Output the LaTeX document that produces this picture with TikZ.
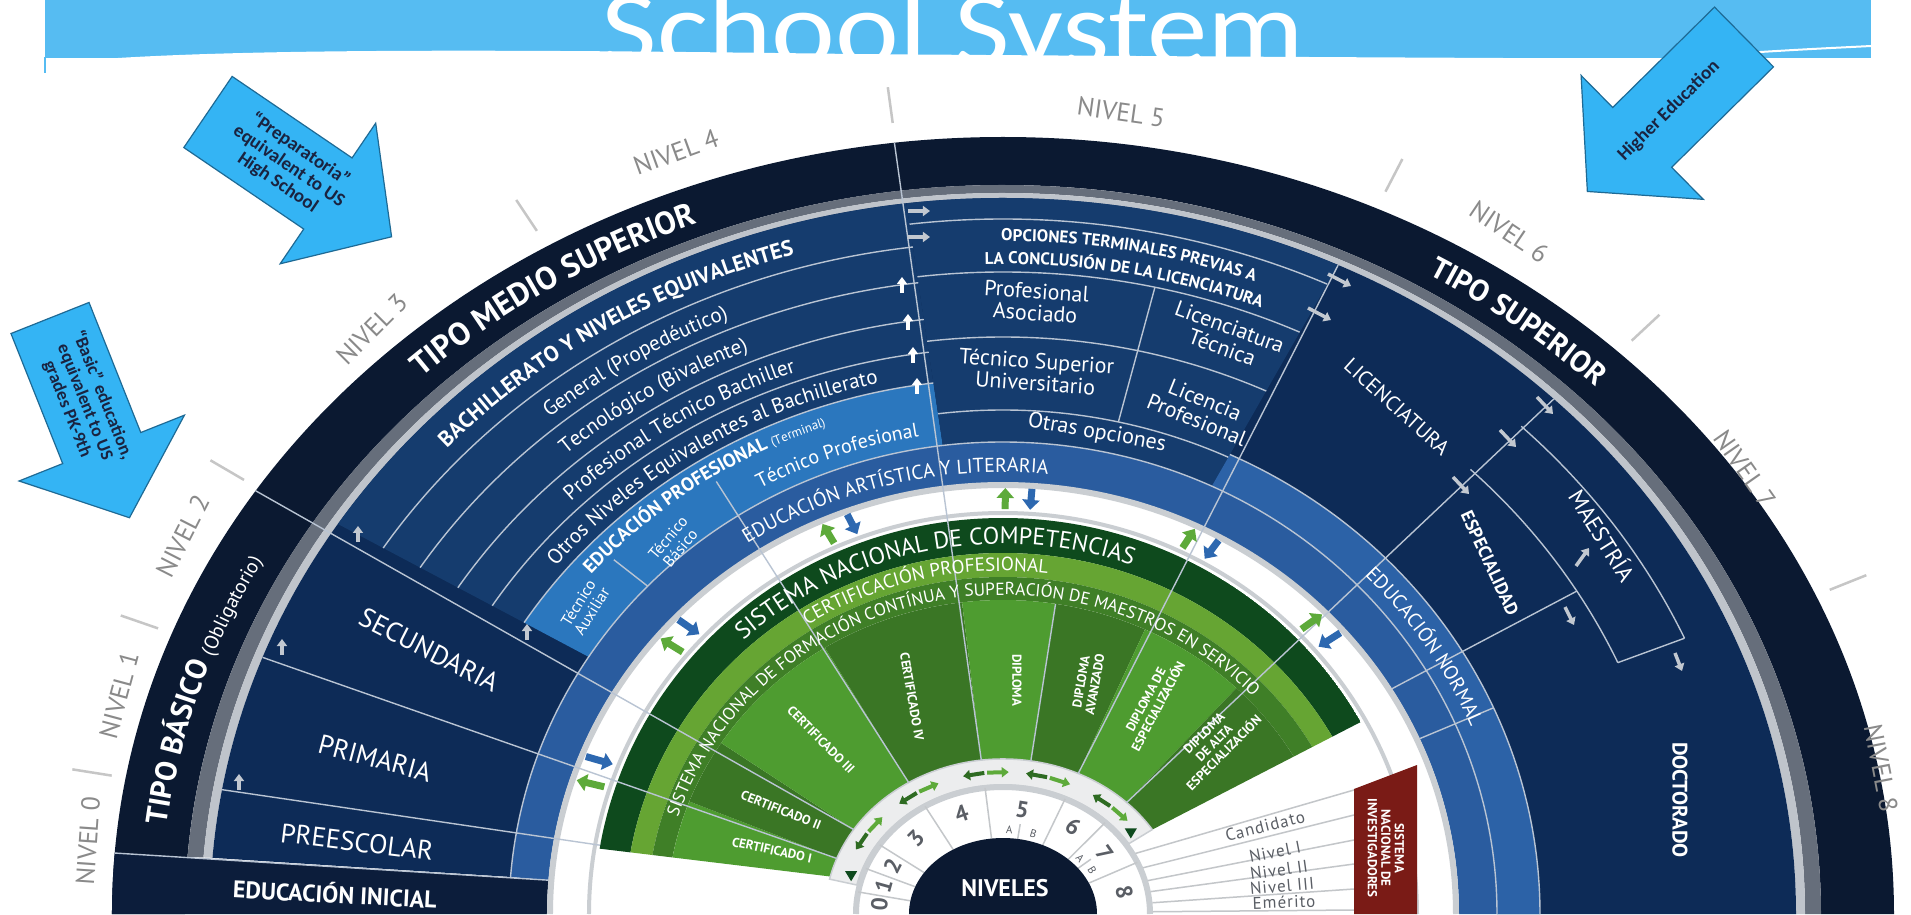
\documentclass[tikz,border=0pt]{standalone}
\usepackage{fontspec}
\setmainfont{PT Sans}
\newfontfamily\callfont{Carlito}
\usetikzlibrary{decorations.text,arrows.meta}

\definecolor{outerband}{HTML}{0B1931}
\definecolor{ringgray}{HTML}{666E7B}
\definecolor{ringlight}{HTML}{BFC4CB}
\definecolor{navy}{HTML}{0D2B57}
\definecolor{rowblue}{HTML}{153C6E}
\definecolor{profblue}{HTML}{2B77BE}
\definecolor{artblue}{HTML}{2A5C9F}
\definecolor{normblue}{HTML}{2C62A7}
\definecolor{inicial}{HTML}{0C1D3B}
\definecolor{sepcol}{HTML}{B9C4D3}
\definecolor{gapgray}{HTML}{CACED2}
\definecolor{gdark}{HTML}{0E4A1D}
\definecolor{glight}{HTML}{66A533}
\definecolor{gmid}{HTML}{3F7F27}
\definecolor{gwa}{HTML}{4E9C30}
\definecolor{gwb}{HTML}{3A7625}
\definecolor{gdarkarrow}{HTML}{2E6B22}
\definecolor{arrowgreen}{HTML}{5DAA3A}
\definecolor{arrowblue}{HTML}{2D68B0}
\definecolor{ringfill}{HTML}{ECEDEE}
\definecolor{numline}{HTML}{C4C7CA}
\definecolor{numgray}{HTML}{5A5E65}
\definecolor{snired}{HTML}{7A1B16}
\definecolor{banner}{HTML}{56BCF2}
\definecolor{callfill}{HTML}{34B4F4}
\definecolor{calledge}{HTML}{1E6A95}
\definecolor{calltext}{HTML}{1A2340}
\definecolor{nivelgray}{HTML}{8A8A8A}
\definecolor{tickgray}{HTML}{C6C6C6}
\definecolor{flowgray}{HTML}{C2C8D0}
\definecolor{fangray}{HTML}{C3C6C9}

\newcommand{\fsz}[1]{\fontsize{#1}{#1}\selectfont}
\newcommand{\band}[7]{\path[#1] (#2:#4pt and #5pt) arc[start angle=#2, end angle=#3, x radius=#4pt, y radius=#5pt] -- (#3:#6pt and #7pt) arc[start angle=#3, end angle=#2, x radius=#6pt, y radius=#7pt] -- cycle;}
\newcommand{\rim}[5]{\draw[#1] (#2:#4pt and #5pt) arc[start angle=#2, end angle=#3, x radius=#4pt, y radius=#5pt];}
\newcommand{\ray}[6]{\draw[#1] (#2:#3pt and #4pt) -- (#2:#5pt and #6pt);}
\newcommand{\curved}[5]{\path[decorate, decoration={text along path, text align=center, text={#5}}] (#1:#3pt and #4pt) arc[start angle=#1, end angle=#2, x radius=#3pt, y radius=#4pt];}
\newcommand{\callout}[7]{\filldraw[callbox, shift={(#1,#2)}, rotate=#3] (0,-#6) -- ({#4-#5},-#6) -- ({#4-#5},-#7) -- (#4,0) -- ({#4-#5},#7) -- ({#4-#5},#6) -- (0,#6) -- cycle;}

\begin{document}
\begin{tikzpicture}[x=1pt, y=1pt,
  sepl/.style={draw=sepcol, line width=1.4pt},
  gapline/.style={draw=gapgray, line width=6pt},
  numsep/.style={draw=numline, line width=1.5pt},
  flow/.style={-{Triangle[width=10pt,length=7pt]}, line width=3.5pt, draw=flowgray},
  wflow/.style={flow, draw=white},
  gup/.style={-{Triangle[width=17pt,length=10pt]}, line width=7pt, draw=arrowgreen},
  bdown/.style={gup, draw=arrowblue},
  lefta/.style={-{Triangle[width=10pt,length=7pt]}, line width=4pt, draw=gdarkarrow},
  righta/.style={lefta, draw=arrowgreen},
  callbox/.style={fill=callfill, draw=calledge, line width=1.2pt},
  calltxt/.style={text=calltext, font=\callfont\bfseries\fontsize{19}{20}\selectfont, align=center},
  nivel/.style={text=nivelgray, font=\fsz{26}},
  nivtick/.style={draw=tickgray, line width=2.5pt},
  numlbl/.style={text=numgray, font=\bfseries\fsz{23}},
  ablbl/.style={text=numgray, font=\fsz{11}},
  lvl/.style={text=white, font=\fsz{27}},
  opt/.style={text=white, font=\fontsize{22}{22}\selectfont, align=center},
  wedgelbl/.style={text=white, font=\bfseries\fontsize{13}{14}\selectfont, align=center},
  fanline/.style={draw=fangray, line width=1.5pt},
  fanlbl/.style={text=numgray, font=\fsz{17}\addfontfeatures{LetterSpace=6}}]
\tikzstyle{every node}=[inner sep=0pt]
\useasboundingbox (-1003,0) rectangle (908,914);
\fill[white] (-1003,0) rectangle (908,914);

\fill[banner] (-958,856) rectangle (868,914);
\draw[banner, line width=2pt] (-958,857) -- (-958,841);
\fill[white] (-885,856) .. controls (-720,866) and (-450,864) .. (-150,860) .. controls (100,858) and (300,857) .. (500,856) -- cycle;
\node[text=white, font=\callfont\fsz{108}, xscale=1.12, anchor=base] (t) at (-50,848) {School System};
\draw[white, line width=2pt] (700,858) .. controls (780,864) and (830,866) .. (868,868);

\band{fill=outerband}{180}{0}{891}{777}{818}{729}
\band{fill=ringgray}{175.5}{0}{818}{729}{802}{721}
\band{fill=ringlight}{175.5}{0}{802}{721}{793}{716}
\band{fill=navy}{175.5}{0}{793}{716}{494}{472}
\band{fill=rowblue}{147}{97}{793}{716}{571}{535}
\band{fill=profblue}{147}{97}{571}{535}{494}{472}
\band{fill=rowblue}{97}{65}{793}{716}{494}{472}
\band{fill=normblue}{65}{0}{537}{507}{494}{472}
\band{fill=artblue}{175.5}{0}{494}{472}{456}{431}
\band{fill=inicial}{180}{175.5}{891}{777}{456}{431}

\begin{scope}
\clip (170.5:409pt and 396pt) arc[start angle=170.5, end angle=29, x radius=409pt, y radius=396pt] -- (33:178pt and 155pt) arc[start angle=33, end angle=166, x radius=178pt, y radius=155pt] -- cycle;
\band{fill=gdark}{180}{0}{409}{396}{378}{361}
\band{fill=glight}{180}{0}{378}{361}{356}{337}
\band{fill=gmid}{180}{0}{356}{337}{336}{314}
\foreach \a/\b/\c in {180/159/gwa, 159/147/gwb, 147/122/gwa, 122/97/gwb, 97/81/gwa, 81/65/gwb, 65/46/gwa, 46/0/gwb}
  {\band{fill=\c}{\a}{\b}{336}{314}{178}{155}}
\end{scope}

\band{fill=ringfill, draw=gapgray, line width=1.5pt}{167}{33}{178}{155}{150}{129}
\band{fill=white}{180}{0}{147}{127}{94}{76}
\rim{draw=gapgray, line width=6pt}{180}{0}{147}{127}
\foreach \t in {170,159,147,122,97,65,46,24} {\ray{numsep}{\t}{147}{127}{94}{76}}
\ray{numsep}{81}{110}{91}{94}{76}
\ray{numsep}{37}{110}{91}{94}{76}
\fill[outerband] (180:94pt and 76pt) arc[start angle=180, end angle=0, x radius=94pt, y radius=76pt] -- cycle;

\rim{gapline}{180}{0}{453}{429}
\rim{draw=gapgray, line width=4pt}{180}{0}{414}{401}

\foreach \a/\b in {739/672, 695/636, 650/599, 609/566, 571/535} {\rim{sepl}{147}{97}{\a}{\b}}
\foreach \a/\b in {767/695, 702/642, 623/577, 533/504} {\rim{sepl}{97}{65}{\a}{\b}}
\rim{sepl}{65}{0}{537}{507}
\rim{sepl}{175.5}{0}{494}{472}
\rim{sepl}{46}{24}{673}{618}
\rim{sepl}{46}{24}{746}{678}
\ray{sepl}{175.5}{891}{777}{456}{431}
\ray{sepl}{170}{793}{716}{409}{396}
\ray{sepl}{159}{793}{716}{178}{155}
\ray{sepl}{147}{891}{777}{178}{155}
\ray{sepl}{136}{541}{510}{494}{472}
\ray{sepl}{122}{541}{510}{178}{155}
\ray{sepl}{97}{891}{777}{178}{155}
\ray{sepl}{81}{336}{314}{178}{155}
\ray{sepl}{77.5}{702}{642}{533}{504}
\ray{sepl}{65}{793}{716}{178}{155}
\ray{sepl}{46}{793}{716}{178}{155}
\ray{sepl}{31.5}{673}{618}{456}{431}
\ray{sepl}{24}{746}{678}{673}{618}
\ray{sepl}{24}{537}{507}{456}{431}

\foreach \t in {160,138,112,88,63,43} {
  \draw[gup] ({\t+1.7}:420pt and 405pt) -- ({\t+1.7}:449pt and 426pt);
  \draw[bdown] ({\t-1.7}:449pt and 426pt) -- ({\t-1.7}:420pt and 405pt);}
\foreach \t in {145,121,96,74,49} {
  \draw[lefta] ({\t+0.5}:165pt and 142pt) -- ({\t+8}:165pt and 142pt);
  \draw[righta] ({\t-0.5}:165pt and 142pt) -- ({\t-8}:165pt and 142pt);}
\fill[gdark, shift={(164:158pt and 137pt)}] (-6,5) -- (6,5) -- (0,-5) -- cycle;
\fill[gdark, shift={(36:158pt and 137pt)}] (-6,5) -- (6,5) -- (0,-5) -- cycle;

\draw[fanline] (28:150pt and 129pt) -- (351,124);
\draw[fanline] (21:150pt and 129pt) -- (351,99);
\draw[fanline] (15:150pt and 129pt) -- (351,74);
\draw[fanline] (10:150pt and 129pt) -- (351,50);
\draw[fanline] (5:150pt and 129pt) -- (351,25);
\draw[fanline] (1:150pt and 129pt) -- (351,4);
\fill[snired] (351,0) -- (351,125) -- (414,149) -- (414,0) -- cycle;
\node[text=white, font=\bfseries\fontsize{13}{13.5}\selectfont, align=center, rotate=-90] (s) at (383,66) {SISTEMA\\NACIONAL DE\\INVESTIGADORES};
\node[fanlbl, rotate=14] (c1) at (262,88) {Candidato};
\node[fanlbl, rotate=11] (c2) at (272,62) {Nivel I};
\node[fanlbl, rotate=8] (c3) at (276,44) {Nivel II};
\node[fanlbl, rotate=5] (c4) at (279,28) {Nivel III};
\node[fanlbl, rotate=2] (c5) at (281,12) {Emérito};

\foreach \t in {170,159,147,121,97,65,46,24} {\draw[nivtick] (\t:905pt and 797pt) -- (\t:945pt and 833pt);}
\foreach \i/\x/\y/\r in {0/-915/73/86, 1/-884/219/75, 2/-820/378/63, 3/-631/585/45, 4/-327/762/20, 5/118/802/-8, 6/506/682/-34, 7/742/445/-55, 8/878/146/-79}
  {\node[nivel, rotate=\r] (nv\i) at (\x,\y) {NIVEL \i};}

\draw[flow] (-764,124) -- (-764,140);
\draw[flow] (-721,259) -- (-721,275);
\draw[flow] (-645,372) -- (-645,388);
\draw[flow] (-476,274) -- (-476,290);
\draw[wflow] (-101,621) -- (-101,637);
\draw[wflow] (-95,584) -- (-95,600);
\draw[wflow] (-90,551) -- (-90,567);
\draw[wflow] (-86,520) -- (-86,536);
\draw[flow] (-95,703) -- (-73,703);
\draw[flow] (-95,677) -- (-73,677);
\draw[flow] (325,640) -- (348,628);
\draw[flow] (305,606) -- (328,594);
\draw[flow] (534,517) -- (550,500);
\draw[flow] (497,484) -- (513,467);
\draw[flow] (450,437) -- (466,420);
\draw[flow] (573,348) -- (586,366);
\draw[flow] (562,307) -- (571,289);
\draw[flow] (672,261) -- (679,243);

\curved{180}{145}{842}{741}{|\color{white}\bfseries\fsz{30}|TIPO BÁSICO |\color{white}\mdseries\fsz{20}|(Obligatorio)}
\curved{150}{96}{842}{741}{|\color{white}\bfseries\fsz{32}|TIPO MEDIO SUPERIOR}
\curved{75}{29}{842}{741}{|\color{white}\bfseries\fsz{30}|TIPO SUPERIOR}
\curved{150}{94}{757}{686}{|\color{white}\bfseries\fsz{22}|BACHILLERATO Y NIVELES EQUIVALENTES}
\curved{140}{103}{708}{646}{|\color{white}\fsz{21}|General (Propedéutico)}
\curved{140}{104}{664}{610}{|\color{white}\fsz{21}|Tecnológico (Bivalente)}
\curved{145}{99}{621}{575}{|\color{white}\fsz{21}|Profesional Técnico Bachiller}
\curved{150}{93}{582}{543}{|\color{white}\fsz{21}|Otros Niveles Equivalentes al Bachillerato}
\curved{150}{98}{548}{515}{|\color{white}\bfseries\fsz{19}|EDUCACIÓN PROFESIONAL |\color{white}\mdseries\fsz{13}|(Terminal)}
\curved{125}{93}{510}{484}{|\color{white}\fsz{20}|Técnico Profesional}
\curved{140}{68}{467}{442}{|\color{white}\fsz{20}|EDUCACIÓN ARTÍSTICA Y LITERARIA}
\curved{60}{7}{508}{482}{|\color{white}\fsz{20}|EDUCACIÓN NORMAL}
\curved{150}{53}{386}{370}{|\color{white}\fsz{24}|SISTEMA NACIONAL DE COMPETENCIAS}
\curved{140}{66}{362}{343}{|\color{white}\fsz{19}|CERTIFICACIÓN PROFESIONAL}
\curved{175}{30.6}{341}{319}{|\color{white}\fsz{17.5}|SISTEMA NACIONAL DE FORMACIÓN CONTÍNUA Y SUPERACIÓN DE MAESTROS EN SERVICIO}
\curved{105}{55}{739}{673}{|\color{white}\bfseries\fsz{17}|OPCIONES TERMINALES PREVIAS A}
\curved{105}{55}{712}{650}{|\color{white}\bfseries\fsz{17}|LA CONCLUSIÓN DE LA LICENCIATURA}

\node[text=white, font=\bfseries\fsz{24}, rotate=-3] (ei) at (-668,21) {EDUCACIÓN INICIAL};
\node[lvl, rotate=-7] (pre) at (-646,72) {PREESCOLAR};
\node[lvl, rotate=-15] (pri) at (-628,156) {PRIMARIA};
\node[lvl, rotate=-27] (sec) at (-574,264) {SECUNDARIA};
\node[opt, font=\fontsize{16}{16}\selectfont, rotate=58] (ta) at (-418,307) {Técnico\\Auxiliar};
\node[opt, font=\fontsize{16}{16}\selectfont, rotate=50] (tb) at (-329,371) {Técnico\\Básico};
\node[opt, rotate=-4] (pa) at (33,612) {Profesional\\Asociado};
\node[opt, rotate=-4] (ts) at (33,542) {Técnico Superior\\Universitario};
\node[opt, rotate=-20] (lt) at (223,577) {Licenciatura\\Técnica};
\node[opt, rotate=-22] (lp) at (198,504) {Licencia\\Profesional};
\node[opt, rotate=-10] (oo) at (94,481) {Otras opciones};
\node[text=white, font=\fsz{21}, rotate=-42] (lic) at (394,507) {LICENCIATURA};
\node[text=white, font=\bfseries\fsz{18}, rotate=-65] (esp) at (487,351) {ESPECIALIDAD};
\node[text=white, font=\fsz{23}, rotate=-58] (mae) at (600,379) {MAESTRÍA};
\node[text=white, font=\bfseries\fsz{21}, rotate=-90] (doc) at (677,114) {DOCTORADO};

\node[wedgelbl, rotate=-12] (w1) at (-231,64) {CERTIFICADO I};
\node[wedgelbl, rotate=-22] (w2) at (-222,104) {CERTIFICADO II};
\node[wedgelbl, rotate=-45] (w3) at (-182,174) {CERTIFICADO III};
\node[wedgelbl, rotate=-80] (w4) at (-91,217) {CERTIFICADO IV};
\node[wedgelbl, rotate=-90] (w5) at (14,234) {DIPLOMA};
\node[wedgelbl, rotate=80] (w6) at (85,231) {DIPLOMA\\AVANZADO};
\node[wedgelbl, rotate=62] (w7) at (149,211) {DIPLOMA DE\\ESPECIALIZACIÓN};
\node[wedgelbl, rotate=45] (w8) at (211,171) {DIPLOMA\\DE ALTA\\ESPECIALIZACIÓN};

\foreach \i/\t in {0/175,1/164.5,2/153,3/134.5,4/109.5,5/81,6/55.5,7/35,8/12}
  {\node[numlbl, rotate=\t-90] (d\i) at (\t:124pt and 106pt) {\i};}
\node[ablbl, rotate=-3.5] (a5) at (86.5:104pt and 84pt) {A};
\node[ablbl, rotate=-17] (b5) at (73:104pt and 84pt) {B};
\node[ablbl, rotate=-48] (a7) at (42:104pt and 84pt) {A};
\node[ablbl, rotate=-59] (b7) at (31:104pt and 84pt) {B};
\node[text=white, font=\bfseries\fsz{24}] (h) at (2,26) {NIVELES};

\callout{741}{877}{224.6}{220}{77}{42}{87}
\callout{-795}{802}{-34.2}{222}{77}{43}{85}
\callout{-953}{596}{-68.3}{215}{75}{42}{89}
\node[calltxt, rotate=44.6] (he) at (666,803) {Higher Education};
\node[calltxt, rotate=-34.2] (hs) at (-714,748) {“Preparatoria”\\equivalent to US\\High School};
\node[calltxt, font=\callfont\bfseries\fontsize{18}{19}\selectfont, rotate=-68.3] (pk) at (-918,512) {“Basic” education,\\equivalent to US\\grades PK-9th};
\end{tikzpicture}
\end{document}
